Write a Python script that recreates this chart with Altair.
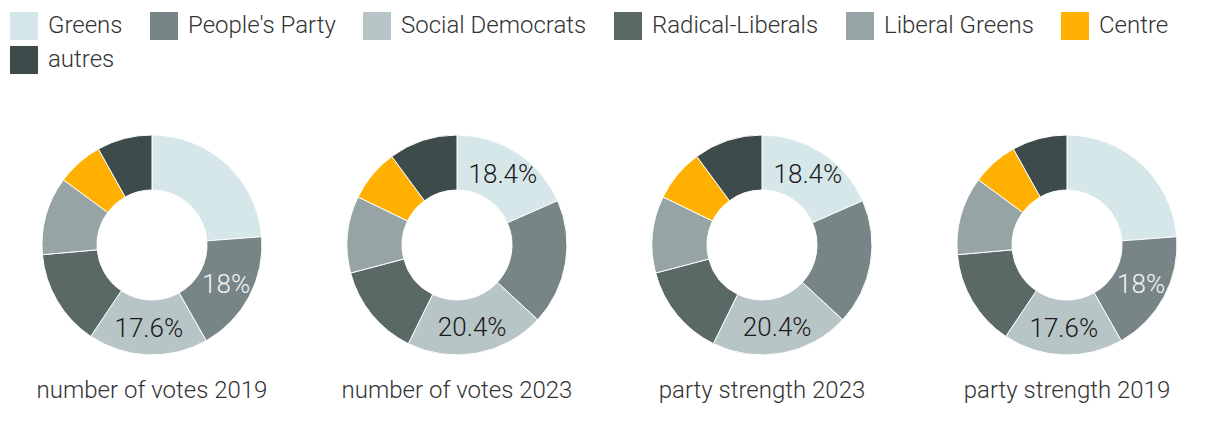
import altair as alt
import pandas as pd

parties = ["Greens", "People's Party", "Social Democrats", "Radical-Liberals",
           "Liberal Greens", "Centre", "autres"]
party_colors = ["#d6e7ea", "#778587", "#b7c5c7", "#5a6866", "#96a4a6", "#ffb000", "#3e4b4b"]
label_colors = ["#1a1a1a", "#f4f4f4", "#1a1a1a", "#f4f4f4", "#1a1a1a", "#1a1a1a", "#f4f4f4"]

panel_titles = ["number of votes 2019", "number of votes 2023",
                "party strength 2023", "party strength 2019"]

votes_2019 = [23.8, 18.0, 17.6, 14.2, 11.5, 6.8, 8.1]
votes_2023 = [18.4, 18.5, 20.4, 13.6, 11.3, 7.7, 10.1]
strength_2023 = [18.4, 18.5, 20.4, 13.6, 11.3, 7.7, 10.1]
strength_2019 = [23.8, 18.0, 17.6, 14.2, 11.5, 6.8, 8.1]

labels_votes_2019 = ["", "18%", "17.6%", "", "", "", ""]
labels_votes_2023 = ["18.4%", "", "20.4%", "", "", "", ""]
labels_strength_2023 = ["18.4%", "", "20.4%", "", "", "", ""]
labels_strength_2019 = ["", "18%", "17.6%", "", "", "", ""]

panel_values = [votes_2019, votes_2023, strength_2023, strength_2019]
panel_labels = [labels_votes_2019, labels_votes_2023, labels_strength_2023, labels_strength_2019]

rows = []
for p, (vals, labs) in enumerate(zip(panel_values, panel_labels)):
    for i, party in enumerate(parties):
        rows.append({"panel": p, "party": party, "idx": i, "value": vals[i],
                     "label": labs[i], "lc": label_colors[i]})
df = pd.DataFrame(rows)
titles_df = pd.DataFrame({"panel": list(range(4)), "title": panel_titles})

FONT = "Roboto"
TEXT_COLOR = "#333333"
CX0, DX, CY = 144, 305, 237
R_OUT, R_IN, R_LAB = 110, 55, 84

color_scale = alt.Scale(domain=parties, range=party_colors)
theta_enc = alt.Theta("value:Q", stack=True, scale=alt.Scale(domain=[0, 100]))

layers = []
for p in range(4):
    cx = CX0 + DX * p
    base = alt.Chart(df).transform_filter(alt.datum.panel == p)
    arc = base.mark_arc(outerRadius=R_OUT, innerRadius=R_IN, stroke="white",
                        strokeWidth=1).encode(
        theta=theta_enc,
        order=alt.Order("idx:Q", sort="ascending"),
        color=alt.Color("party:N", scale=color_scale,
                        legend=alt.Legend(title=None)),
        x=alt.value(cx), y=alt.value(CY),
    )
    txt = base.mark_text(radius=R_LAB, font=FONT, fontSize=26, fontWeight=300).encode(
        theta=theta_enc,
        order=alt.Order("idx:Q", sort="ascending"),
        text="label:N",
        color=alt.Color("lc:N", scale=None, legend=None),
        x=alt.value(cx), y=alt.value(CY),
    )
    ttl = alt.Chart(titles_df).transform_filter(alt.datum.panel == p).mark_text(
        font=FONT, fontSize=24, fontWeight=300, color=TEXT_COLOR, baseline="middle"
    ).encode(text="title:N", x=alt.value(cx), y=alt.value(383))
    layers += [arc, txt, ttl]

chart = alt.layer(*layers).properties(
    width=1204, height=420, autosize="none", padding=0
).configure_view(stroke=None).configure_legend(
    orient="none", legendX=2, legendY=4, direction="horizontal", columns=6,
    symbolType="square", symbolSize=784, symbolStrokeWidth=0,
    labelFont=FONT, labelFontSize=24, labelFontWeight=300, labelColor=TEXT_COLOR,
    labelOffset=10, columnPadding=27, rowPadding=6, padding=0, labelLimit=0,
)

chart.save("out.html", embed_options={"renderer": "svg", "actions": False})
